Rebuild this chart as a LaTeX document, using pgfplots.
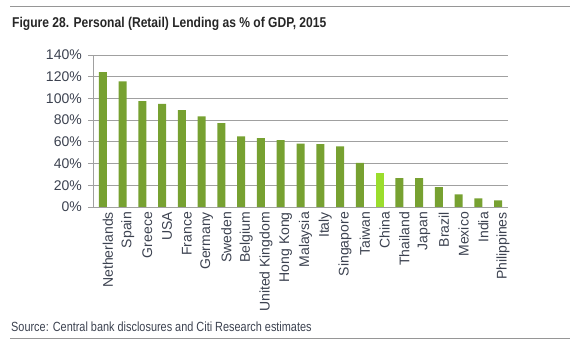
\documentclass[border=0pt]{standalone}
\usepackage{pgfplots}
\pgfplotsset{compat=1.18}
\usepackage{fontspec}
\setmainfont{Liberation Sans}
\newfontfamily\narrow[FakeStretch=0.82]{Liberation Sans}
\newfontfamily\narrowb[FakeStretch=0.85]{Liberation Sans}
\definecolor{barGreen}{RGB}{119,161,49}
\definecolor{chinaGreen}{RGB}{155,221,45}
\definecolor{lblGray}{RGB}{60,66,80}
\definecolor{gridGray}{RGB}{160,160,160}
\definecolor{ruleGray}{RGB}{150,150,150}
\begin{document}
\begin{tikzpicture}[x=1pt,y=1pt]
\useasboundingbox (0,0) rectangle (573,345);
\draw[ruleGray, line width=1pt] (10,338) -- (570,338);
\draw[ruleGray, line width=1pt] (10,6) -- (570,6);
\node[anchor=base west, inner sep=0, font=\narrowb\bfseries\fontsize{14.2}{16}\selectfont, text=black!85] at (12,317) {Figure 28. Personal (Retail) Lending as \% of GDP, 2015};
\node[anchor=base west, inner sep=0, font=\narrow\fontsize{13.3}{15}\selectfont, text=lblGray] at (11,13) {Source: Central bank disclosures and Citi Research estimates};
\begin{axis}[
  at={(93pt,138pt)}, anchor=south west,
  scale only axis, width=415pt, height=152pt,
  xmin=-0.5, xmax=20.5, ymin=0, ymax=140,
  axis x line*=bottom, axis y line*=left,
  axis line style={gridGray, line width=0.8pt},
  ytick={0,20,...,140},
  yticklabel={\pgfmathprintnumber{\tick}\%},
  /pgf/number format/assume math mode=true,
  ymajorgrids, grid style={gridGray, line width=0.8pt},
  tick align=outside,
  major tick length=5pt,
  ytick style={gridGray, line width=0.8pt},
  xtick={0,...,20},
  xtick style={draw=none},
  minor xtick={-0.5,0.5,...,20.5},
  minor tick length=4pt,
  minor x tick style={gridGray, line width=0.8pt},
  xticklabels={Netherlands,Spain,Greece,USA,France,Germany,Sweden,Belgium,United Kingdom,Hong Kong,Malaysia,Italy,Singapore,Taiwan,China,Thailand,Japan,Brazil,Mexico,India,Philippines},
  ticklabel style={font=\fontsize{14}{14}\selectfont, text=lblGray},
  xticklabel style={rotate=90, anchor=east, inner sep=0pt, yshift=-5pt},
  yticklabel style={anchor=east, inner sep=0pt, xshift=-6pt},
  ybar, bar width=8pt,
]
\addplot[fill=barGreen, draw=none, bar shift=0pt] coordinates {
(0,124.3) (1,115.7) (2,97.4) (3,95.0) (4,89.2) (5,83.4) (6,77.3) (7,65.0) (8,63.5) (9,61.7) (10,58.3) (11,58.0) (12,55.9) (13,40.6) (15,26.6) (16,26.6) (17,18.3) (18,11.6) (19,7.9) (20,6.1)
};
\addplot[fill=chinaGreen, draw=none, bar shift=0pt] coordinates {(14,31.1)};
\end{axis}
\end{tikzpicture}
\end{document}
